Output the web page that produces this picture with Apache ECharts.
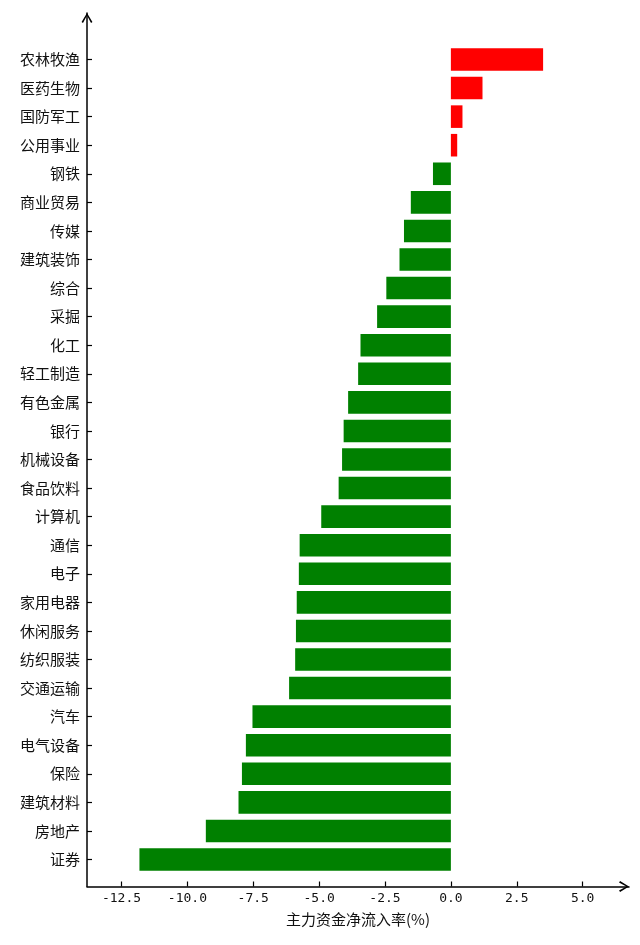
<!DOCTYPE html>
<html>
<head>
<meta charset="utf-8">
<script src="https://cdn.jsdelivr.net/npm/echarts@6/dist/echarts.min.js"></script>
<style>
html,body{margin:0;padding:0;background:#fff;}
#chart{width:640px;height:945px;}
</style>
</head>
<body>
<div id="chart"></div>
<script>
"use strict";

const industries = ["农林牧渔","医药生物","国防军工","公用事业","钢铁","商业贸易","传媒","建筑装饰","综合","采掘",
	"化工","轻工制造","有色金属","银行","机械设备","食品饮料","计算机","通信","电子","家用电器",
	"休闲服务","纺织服装","交通运输","汽车","电气设备","保险","建筑材料","房地产","证券"];
const inflowRate = [3.50,1.20,0.44,0.24,-0.68,-1.52,-1.78,-1.95,-2.45,-2.80,
	-3.43,-3.52,-3.90,-4.07,-4.13,-4.26,-4.92,-5.74,-5.77,-5.85,
	-5.88,-5.91,-6.14,-7.53,-7.78,-7.93,-8.06,-9.30,-11.82];
const xTicks = [-12.5,-10,-7.5,-5,-2.5,0,2.5,5];
const xMin = -13.81;
const xMax = 6.76;

const cjk = "'Noto Sans CJK SC', sans-serif";
const mono = "'DejaVu Sans Mono', monospace";
const chevron = "path://M5,0 L10,8.2 L8.7,9.2 L5,2.4 L1.3,9.2 L0,8.2 Z";

const myChart = echarts.init(document.getElementById("chart"));

myChart.setOption({
	animation:false,
	backgroundColor:"#fff",
	grid:[
		// bars
		{left:87,right:11,top:45.2,bottom:71.2},
		// axis frame
		{left:87,right:11,top:13,bottom:58.5}
	],
	xAxis:[
		{
			gridIndex:0,type:"value",min:xMin,max:xMax,show:false
		},
		{
			gridIndex:1,type:"value",min:xMin,max:xMax,
			splitLine:{show:false},
			axisLine:{show:true,onZero:false,symbol:["none",chevron],symbolSize:[11,10],symbolOffset:[0,-5],
				lineStyle:{color:"#000",width:1.5}},
			axisTick:{show:true,inside:true,length:5,customValues:xTicks,lineStyle:{color:"#000",width:1.2}},
			axisLabel:{show:true,customValues:xTicks,margin:6,color:"#111",fontFamily:mono,fontSize:13,
				formatter:(v)=>v.toFixed(1)},
			name:"主力资金净流入率(%)",nameLocation:"middle",nameGap:25,
			nameTextStyle:{color:"#111",fontFamily:cjk,fontSize:15}
		}
	],
	yAxis:[
		{
			gridIndex:0,type:"category",data:industries,inverse:true,
			axisLine:{show:false,onZero:false},
			axisTick:{show:true,inside:true,length:5,alignWithLabel:true,lineStyle:{color:"#000",width:1.2}},
			axisLabel:{interval:0,margin:7,color:"#111",fontFamily:cjk,fontSize:15},
			splitLine:{show:false}
		},
		{
			gridIndex:1,type:"value",min:0,max:1,
			splitLine:{show:false},
			axisTick:{show:false},
			axisLabel:{show:false},
			axisLine:{show:true,onZero:false,symbol:["none",chevron],symbolSize:[11,10],symbolOffset:[0,-5],
				lineStyle:{color:"#000",width:1.5}}
		}
	],
	series:[{
		type:"bar",
		xAxisIndex:0,
		yAxisIndex:0,
		data:inflowRate,
		barWidth:"79%",
		itemStyle:{color:(p)=>p.value>0?"#ff0000":"#008000"}
	}]
});
</script>
</body>
</html>
